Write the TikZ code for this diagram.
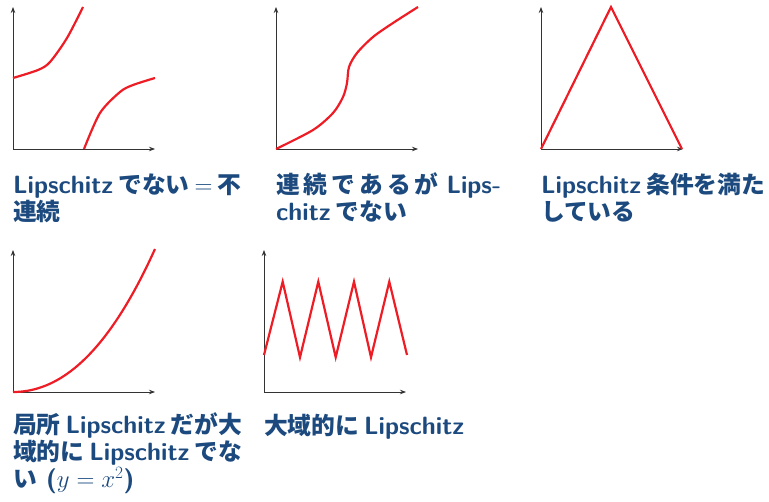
\documentclass[tikz,border=0pt]{standalone}
\usepackage{fontspec}
\newfontfamily\jpfont[Scale=0.95]{Noto Sans CJK JP}
\newcommand{\jp}[1]{{\jpfont\bfseries #1}}
\newcommand{\js}{\hspace{5pt}}
\usetikzlibrary{arrows.meta}
\definecolor{curvered}{RGB}{238,28,36}
\definecolor{labelblue}{RGB}{28,74,126}

\begin{document}
\begin{tikzpicture}[x=1pt, y=-1pt, ax/.style={-{Stealth[length=6pt, width=4.5pt]}, line width=0.8pt, black!80}, fn/.style={curvered, line width=2.2pt}, lab/.style={anchor=base west, align=left, inner sep=0pt, text=labelblue, font=\fontsize{25}{27}\selectfont\sffamily\bfseries}]
\useasboundingbox (0,0) rectangle (769,502);
% axes of the five panels
\foreach \ox/\oy in {13/149, 276/149, 541/149, 13/392, 264/392} {
  \draw[ax] (\ox,\oy) -- ++(142,0);
  \draw[ax] (\ox,\oy) -- ++(0,-142);
}
% not continuous
\draw[fn] plot[smooth] coordinates {(13,78) (38,70) (50,62) (67,38) (83,7)};
\draw[fn] plot[smooth] coordinates {(84,149) (100,113) (120,92) (133,85) (155,78)};
% continuous, but not Lipschitz
\draw[fn] plot[smooth] coordinates {(276,149) (313,130) (333,113) (343,97) (347,83) (349,67) (357,53) (373,37) (393,23) (418,7)};
% Lipschitz
\draw[fn] (541,149) -- (611,7) -- (682,149);
% y = x^2
\draw[fn] plot[domain=0:1, samples=40] ({13+142*\x}, {392-143*\x*\x*(0.8+0.2*\x)});
% globally Lipschitz
\draw[fn] (264,355) -- (282.7,281.7) -- (300,357.3) -- (318.3,281.7) -- (335.7,357.3) -- (354,281.7) -- (371,357.3) -- (389.3,281.7) -- (407,355);
% labels (anchored at the baseline of their last line)
\node[lab] (lab1) at (13,221) {Lipschitz\js\jp{でない}\js$=$\js\jp{不}\\\jp{連続}};
\node[lab] (lab2) at (276,221) {\makebox[225pt][s]{\jp{連}\hfil\jp{続}\hfil\jp{で}\hfil\jp{あ}\hfil\jp{る}\hfil\jp{が}\hfil\hfil Lips-}\\chitz\js\jp{でない}};
\node[lab] (lab3) at (541,221) {Lipschitz\js\jp{条件を満た}\\\jp{している}};
\node[lab] (lab4) at (13,488) {\jp{局所}\js Lipschitz\js\jp{だが大}\\\jp{域的に}\js Lipschitz\js\jp{でな}\\\jp{い} ($y=x^2$)};
\node[lab] (lab5) at (264,435) {\jp{大域的に}\js Lipschitz};
\end{tikzpicture}
\end{document}
